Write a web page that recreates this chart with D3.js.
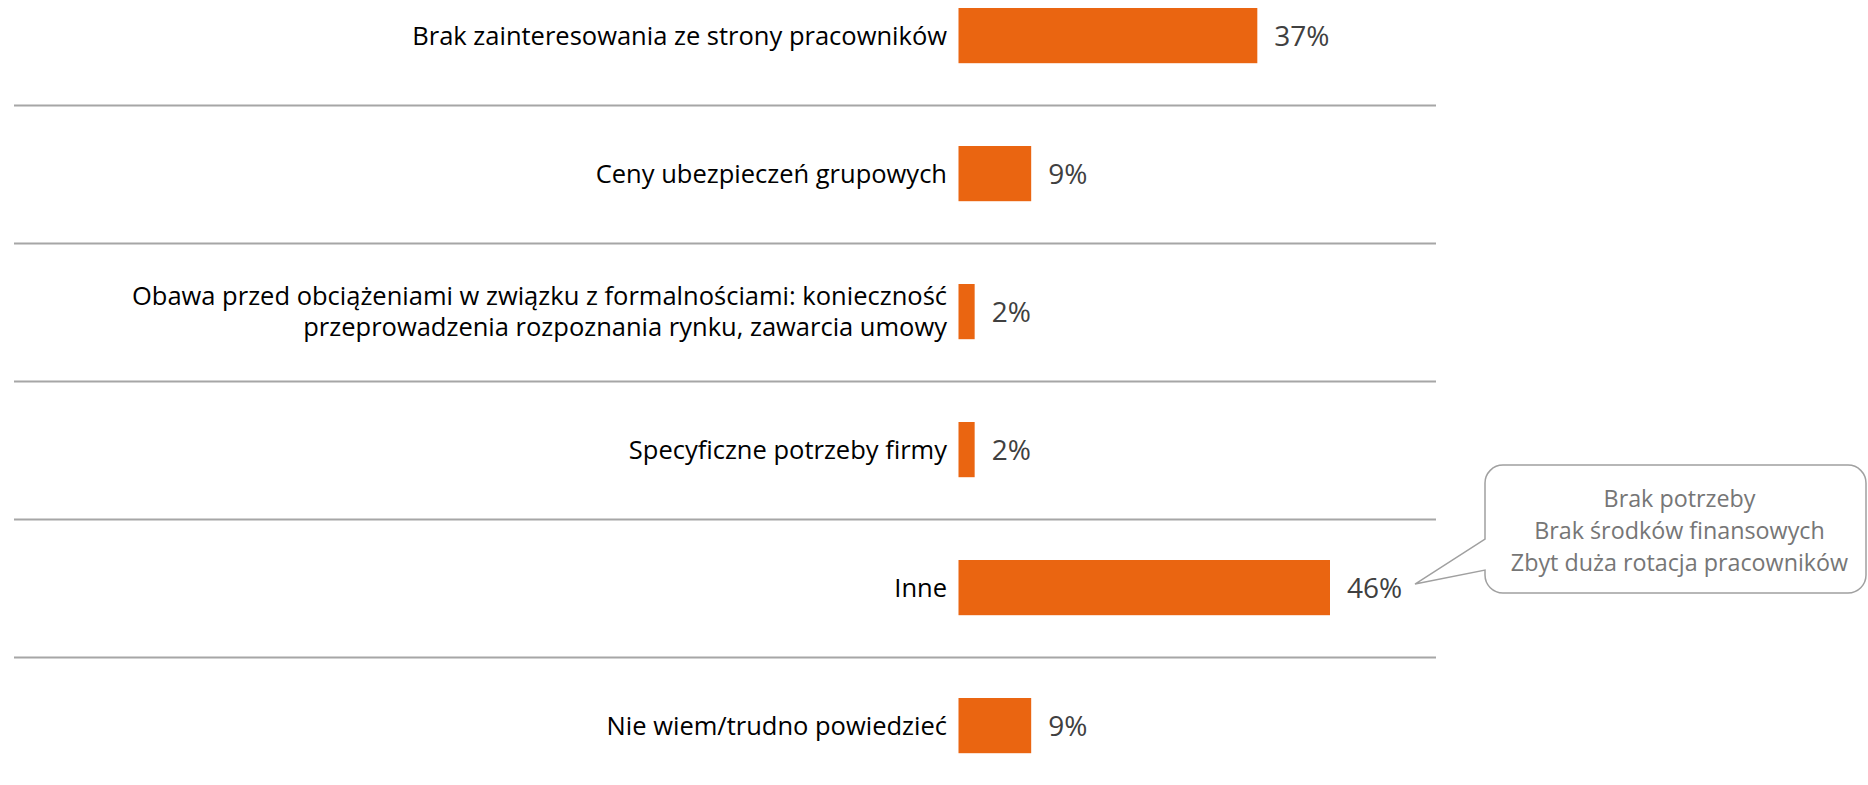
<!DOCTYPE html>
<html>
<head>
<meta charset="utf-8">
<script src="https://cdn.jsdelivr.net/npm/d3@7"></script>
<style>
  body { margin: 0; background: #fff; }
  svg { display: block; font-family: "Open Sans", sans-serif; }
</style>
</head>
<body>
<script>
// data
var categories = [
  ["Brak zainteresowania ze strony pracowników"],
  ["Ceny ubezpieczeń grupowych"],
  ["Obawa przed obciążeniami w związku z formalnościami: konieczność", "przeprowadzenia rozpoznania rynku, zawarcia umowy"],
  ["Specyficzne potrzeby firmy"],
  ["Inne"],
  ["Nie wiem/trudno powiedzieć"]
];
var values = [37, 9, 2, 2, 46, 9];
var calloutIndex = 4;
var calloutLines = ["Brak potrzeby", "Brak środków finansowych", "Zbyt duża rotacja pracowników"];

var W = 1868, H = 785;

var svg = d3.select("body")
            .append("svg")
            .attr("width", W)
            .attr("height", H);

var keys = categories.map(function(d, i){ return "c" + i; });

var y = d3.scaleBand()
          .domain(keys)
          .range([-33.4, 794.6])
          .paddingInner(0.6)
          .paddingOuter(0.3);

var x = d3.scaleLinear()
          .domain([0, 46])
          .range([958.5, 1330]);

var step = y.step(), bw = y.bandwidth();

// separator lines
svg.selectAll(".sep")
   .data(keys.slice(0, keys.length - 1))
   .enter()
   .append("line")
   .attr("class", "sep")
   .attr("x1", 14)
   .attr("x2", 1436)
   .attr("y1", function(d){ return y(d) + bw + (step - bw) / 2 + 1; })
   .attr("y2", function(d){ return y(d) + bw + (step - bw) / 2 + 1; })
   .attr("stroke", "#a6a6a6")
   .attr("stroke-width", 2);

// bars
svg.selectAll(".bar")
   .data(values)
   .enter()
   .append("rect")
   .attr("class", "bar")
   .attr("x", x(0))
   .attr("y", function(d, i){ return y(keys[i]); })
   .attr("width", function(d){ return x(d) - x(0); })
   .attr("height", bw)
   .attr("fill", "#ea6511");

// value labels
svg.selectAll(".val")
   .data(values)
   .enter()
   .append("text")
   .attr("class", "val")
   .attr("x", function(d){ return x(d) + 17; })
   .attr("y", function(d, i){ return y(keys[i]) + bw / 2; })
   .attr("dy", "0.36em")
   .style("font-size", "28px")
   .style("fill", "#404040")
   .text(function(d){ return d + "%"; });

// category labels (one or two lines)
var lab = svg.selectAll(".cat")
   .data(categories)
   .enter()
   .append("text")
   .attr("class", "cat")
   .attr("text-anchor", "end")
   .style("font-size", "25.5px")
   .style("fill", "#000");

lab.each(function(lines, i){
    var t = d3.select(this);
    var cy = y(keys[i]) + bw / 2;
    var lh = 31;
    lines.forEach(function(s, j){
        t.append("tspan")
         .attr("x", 947)
         .attr("y", cy + (j - (lines.length - 1) / 2) * lh)
         .attr("dy", "0.36em")
         .text(s);
    });
});

// callout for "Inne"
var cy = y(keys[calloutIndex]) + bw / 2;
var tipX = x(values[calloutIndex]) + 85, tipY = cy - 3.5;
var L = 1485, R = 1866, T = cy - 122.5, B = cy + 5.5, r = 18;
var pHi = cy - 48.5, pLo = cy - 17.5;

var p = d3.path();
p.moveTo(L + r, T);
p.lineTo(R - r, T);
p.arcTo(R, T, R, T + r, r);
p.lineTo(R, B - r);
p.arcTo(R, B, R - r, B, r);
p.lineTo(L + r, B);
p.arcTo(L, B, L, B - r, r);
p.lineTo(L, pLo);
p.lineTo(tipX, tipY);
p.lineTo(L, pHi);
p.lineTo(L, T + r);
p.arcTo(L, T, L + r, T, r);
p.closePath();

svg.append("path")
   .attr("d", p.toString())
   .attr("fill", "#fff")
   .attr("stroke", "#a0a0a0")
   .attr("stroke-width", 1.5);

svg.selectAll(".note")
   .data(calloutLines)
   .enter()
   .append("text")
   .attr("class", "note")
   .attr("x", (L + R) / 2 + 4)
   .attr("y", function(d, i){ return T + 42 + i * 32; })
   .attr("text-anchor", "middle")
   .style("font-size", "23.3px")
   .style("fill", "#767676")
   .text(function(d){ return d; });
</script>
</body>
</html>
